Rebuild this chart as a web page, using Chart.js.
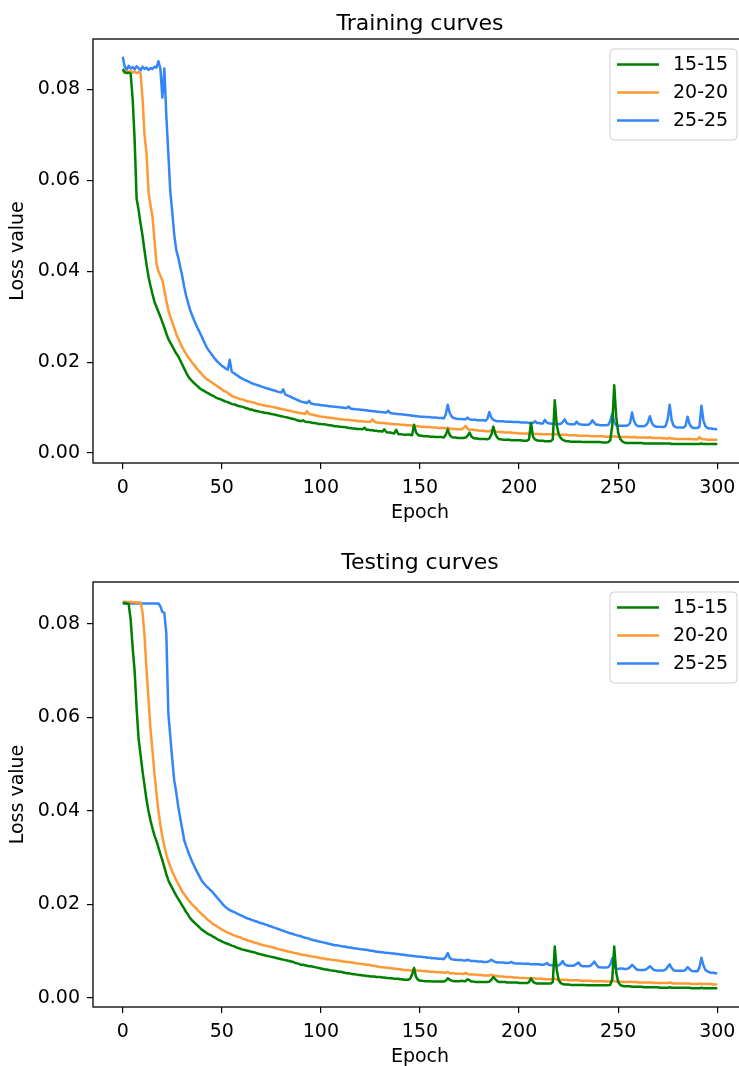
<!DOCTYPE html>
<html>
<head>
<meta charset="utf-8">
<script src="https://cdn.jsdelivr.net/npm/chart.js@4/dist/chart.umd.min.js"></script>
<style>
  html, body { margin: 0; padding: 0; background: #fff; overflow: hidden; }
  #wrap { position: relative; width: 739px; height: 1066px; overflow: hidden; }
  canvas { position: absolute; left: 0; }
  #trainChart { top: 0; }
  #testChart { top: 543px; }
</style>
</head>
<body>
<div id="wrap">
  <canvas id="trainChart" width="760" height="540" style="width:760px;height:540px"></canvas>
  <canvas id="testChart" width="760" height="540" style="width:760px;height:540px"></canvas>
</div>
<script>
// Loss per epoch (0..300) for the three grid sizes
const seriesNames = ["15-15", "20-20", "25-25"];
const lineColors = ["#008000", "#ff9933", "#3386f7"];
const epochTicks = [0, 50, 100, 150, 200, 250, 300];
const lossTicks = [0, 0.02, 0.04, 0.06, 0.08];

const trainGreen = [
  0.0845, 0.0838, 0.0836, 0.0837, 0.0835, 0.0780, 0.0690, 0.0560, 0.0535, 0.0505,
  0.0478, 0.0445, 0.0415, 0.0388, 0.0368, 0.0350, 0.0333, 0.0322, 0.0311, 0.0300,
  0.0288, 0.0276, 0.0263, 0.0251, 0.0243, 0.0235, 0.0227, 0.0219, 0.0213, 0.0204,
  0.0195, 0.0186, 0.0177, 0.0169, 0.0163, 0.0158, 0.0154, 0.0150, 0.0146, 0.0142,
  0.0139, 0.0137, 0.0134, 0.0132, 0.0129, 0.0127, 0.0125, 0.0122, 0.0120, 0.0119,
  0.0117, 0.0115, 0.0113, 0.0112, 0.0110, 0.0108, 0.0107, 0.0106, 0.0104, 0.0103,
  0.0102, 0.0101, 0.0099, 0.0098, 0.0096, 0.0096, 0.0094, 0.0093, 0.0092, 0.0091,
  0.0090, 0.0089, 0.0088, 0.0088, 0.0087, 0.0086, 0.0085, 0.0084, 0.0083, 0.0082,
  0.0081, 0.0080, 0.0079, 0.0078, 0.0077, 0.0076, 0.0075, 0.0074, 0.0072, 0.0071,
  0.0070, 0.0072, 0.0069, 0.0068, 0.0068, 0.0067, 0.0066, 0.0066, 0.0065, 0.0064,
  0.0064, 0.0063, 0.0063, 0.0062, 0.0061, 0.0061, 0.0060, 0.0059, 0.0059, 0.0058,
  0.0058, 0.0057, 0.0057, 0.0056, 0.0055, 0.0055, 0.0054, 0.0054, 0.0053, 0.0053,
  0.0053, 0.0052, 0.0056, 0.0051, 0.0051, 0.0050, 0.0050, 0.0049, 0.0049, 0.0048,
  0.0048, 0.0047, 0.0052, 0.0046, 0.0045, 0.0045, 0.0044, 0.0043, 0.0051, 0.0042,
  0.0041, 0.0041, 0.0040, 0.0040, 0.0041, 0.0040, 0.0039, 0.0062, 0.0045, 0.0040,
  0.0038, 0.0038, 0.0037, 0.0037, 0.0037, 0.0036, 0.0036, 0.0036, 0.0035, 0.0035,
  0.0035, 0.0035, 0.0034, 0.0040, 0.0052, 0.0040, 0.0035, 0.0034, 0.0034, 0.0033,
  0.0033, 0.0033, 0.0033, 0.0034, 0.0038, 0.0045, 0.0036, 0.0033, 0.0032, 0.0032,
  0.0031, 0.0031, 0.0031, 0.0031, 0.0030, 0.0032, 0.0040, 0.0058, 0.0042, 0.0034,
  0.0030, 0.0030, 0.0029, 0.0029, 0.0029, 0.0029, 0.0028, 0.0028, 0.0028, 0.0028,
  0.0028, 0.0028, 0.0027, 0.0027, 0.0027, 0.0030, 0.0066, 0.0036, 0.0030, 0.0028,
  0.0027, 0.0027, 0.0027, 0.0026, 0.0026, 0.0026, 0.0026, 0.0030, 0.0116, 0.0062,
  0.0041, 0.0033, 0.0029, 0.0027, 0.0026, 0.0026, 0.0025, 0.0025, 0.0025, 0.0025,
  0.0025, 0.0025, 0.0024, 0.0024, 0.0024, 0.0024, 0.0024, 0.0024, 0.0024, 0.0024,
  0.0024, 0.0024, 0.0023, 0.0023, 0.0023, 0.0024, 0.0028, 0.0060, 0.0149, 0.0080,
  0.0045, 0.0031, 0.0026, 0.0023, 0.0022, 0.0022, 0.0022, 0.0022, 0.0022, 0.0022,
  0.0022, 0.0022, 0.0022, 0.0021, 0.0021, 0.0021, 0.0021, 0.0021, 0.0021, 0.0021,
  0.0021, 0.0021, 0.0021, 0.0021, 0.0021, 0.0021, 0.0021, 0.0020, 0.0020, 0.0020,
  0.0020, 0.0020, 0.0020, 0.0020, 0.0020, 0.0020, 0.0020, 0.0020, 0.0020, 0.0020,
  0.0020, 0.0020, 0.0021, 0.0020, 0.0020, 0.0020, 0.0020, 0.0020, 0.0020, 0.0020,
  0.0020
];

const trainOrange = [
  0.0842, 0.0836, 0.0840, 0.0838, 0.0841, 0.0837, 0.0839, 0.0836, 0.0838, 0.0835,
  0.0780, 0.0700, 0.0660, 0.0575, 0.0545, 0.0520, 0.0470, 0.0418, 0.0400, 0.0390,
  0.0380, 0.0358, 0.0335, 0.0315, 0.0300, 0.0288, 0.0275, 0.0262, 0.0252, 0.0242,
  0.0233, 0.0225, 0.0218, 0.0211, 0.0205, 0.0199, 0.0194, 0.0188, 0.0183, 0.0178,
  0.0173, 0.0168, 0.0164, 0.0161, 0.0158, 0.0155, 0.0152, 0.0149, 0.0146, 0.0143,
  0.0140, 0.0137, 0.0135, 0.0132, 0.0129, 0.0126, 0.0124, 0.0122, 0.0121, 0.0119,
  0.0118, 0.0117, 0.0115, 0.0114, 0.0113, 0.0112, 0.0111, 0.0110, 0.0108, 0.0107,
  0.0106, 0.0105, 0.0104, 0.0103, 0.0103, 0.0102, 0.0101, 0.0100, 0.0099, 0.0098,
  0.0097, 0.0096, 0.0095, 0.0094, 0.0093, 0.0092, 0.0091, 0.0090, 0.0089, 0.0088,
  0.0088, 0.0087, 0.0086, 0.0092, 0.0086, 0.0085, 0.0084, 0.0083, 0.0082, 0.0081,
  0.0080, 0.0080, 0.0079, 0.0078, 0.0078, 0.0077, 0.0077, 0.0076, 0.0076, 0.0075,
  0.0074, 0.0074, 0.0073, 0.0073, 0.0073, 0.0072, 0.0072, 0.0071, 0.0071, 0.0070,
  0.0070, 0.0070, 0.0069, 0.0069, 0.0069, 0.0068, 0.0074, 0.0069, 0.0067, 0.0067,
  0.0066, 0.0066, 0.0066, 0.0065, 0.0065, 0.0064, 0.0064, 0.0063, 0.0063, 0.0063,
  0.0062, 0.0062, 0.0062, 0.0061, 0.0061, 0.0061, 0.0060, 0.0060, 0.0059, 0.0059,
  0.0058, 0.0058, 0.0058, 0.0057, 0.0057, 0.0057, 0.0056, 0.0056, 0.0056, 0.0055,
  0.0055, 0.0055, 0.0055, 0.0054, 0.0056, 0.0054, 0.0053, 0.0053, 0.0053, 0.0052,
  0.0052, 0.0052, 0.0055, 0.0060, 0.0053, 0.0051, 0.0051, 0.0051, 0.0050, 0.0050,
  0.0049, 0.0049, 0.0049, 0.0048, 0.0048, 0.0048, 0.0050, 0.0048, 0.0047, 0.0047,
  0.0046, 0.0046, 0.0046, 0.0045, 0.0045, 0.0045, 0.0045, 0.0044, 0.0044, 0.0044,
  0.0043, 0.0043, 0.0043, 0.0043, 0.0043, 0.0042, 0.0044, 0.0042, 0.0042, 0.0042,
  0.0042, 0.0042, 0.0041, 0.0041, 0.0041, 0.0041, 0.0041, 0.0041, 0.0042, 0.0041,
  0.0040, 0.0040, 0.0040, 0.0040, 0.0040, 0.0039, 0.0039, 0.0039, 0.0039, 0.0039,
  0.0038, 0.0038, 0.0038, 0.0038, 0.0038, 0.0038, 0.0037, 0.0037, 0.0037, 0.0037,
  0.0037, 0.0037, 0.0037, 0.0036, 0.0036, 0.0036, 0.0036, 0.0036, 0.0037, 0.0036,
  0.0036, 0.0035, 0.0035, 0.0035, 0.0035, 0.0035, 0.0035, 0.0034, 0.0036, 0.0034,
  0.0034, 0.0034, 0.0034, 0.0034, 0.0034, 0.0033, 0.0035, 0.0033, 0.0033, 0.0033,
  0.0033, 0.0033, 0.0033, 0.0032, 0.0032, 0.0032, 0.0033, 0.0032, 0.0032, 0.0031,
  0.0031, 0.0031, 0.0031, 0.0031, 0.0031, 0.0031, 0.0031, 0.0030, 0.0030, 0.0030,
  0.0030, 0.0035, 0.0031, 0.0030, 0.0030, 0.0029, 0.0029, 0.0029, 0.0029, 0.0029,
  0.0029
];

const trainBlue = [
  0.0872, 0.0850, 0.0843, 0.0852, 0.0846, 0.0849, 0.0844, 0.0851, 0.0847, 0.0842,
  0.0850, 0.0845, 0.0848, 0.0843, 0.0847, 0.0845, 0.0850, 0.0848, 0.0862, 0.0846,
  0.0782, 0.0846, 0.0742, 0.0660, 0.0575, 0.0530, 0.0480, 0.0447, 0.0430, 0.0410,
  0.0390, 0.0366, 0.0346, 0.0330, 0.0315, 0.0303, 0.0292, 0.0282, 0.0273, 0.0264,
  0.0255, 0.0245, 0.0236, 0.0228, 0.0222, 0.0216, 0.0210, 0.0205, 0.0200, 0.0196,
  0.0192, 0.0189, 0.0186, 0.0183, 0.0205, 0.0179, 0.0176, 0.0173, 0.0170, 0.0167,
  0.0164, 0.0162, 0.0160, 0.0158, 0.0156, 0.0154, 0.0152, 0.0151, 0.0149, 0.0148,
  0.0146, 0.0145, 0.0143, 0.0142, 0.0141, 0.0139, 0.0138, 0.0137, 0.0135, 0.0134,
  0.0133, 0.0140, 0.0129, 0.0127, 0.0125, 0.0123, 0.0121, 0.0119, 0.0117, 0.0115,
  0.0113, 0.0112, 0.0111, 0.0110, 0.0115, 0.0109, 0.0108, 0.0107, 0.0107, 0.0106,
  0.0105, 0.0105, 0.0104, 0.0104, 0.0103, 0.0103, 0.0102, 0.0102, 0.0101, 0.0101,
  0.0100, 0.0100, 0.0099, 0.0099, 0.0102, 0.0098, 0.0097, 0.0097, 0.0096, 0.0096,
  0.0095, 0.0095, 0.0094, 0.0094, 0.0093, 0.0093, 0.0092, 0.0092, 0.0091, 0.0091,
  0.0090, 0.0090, 0.0089, 0.0089, 0.0093, 0.0088, 0.0087, 0.0087, 0.0086, 0.0086,
  0.0085, 0.0085, 0.0084, 0.0084, 0.0083, 0.0083, 0.0082, 0.0082, 0.0081, 0.0081,
  0.0080, 0.0080, 0.0080, 0.0079, 0.0079, 0.0079, 0.0078, 0.0078, 0.0078, 0.0077,
  0.0077, 0.0077, 0.0076, 0.0085, 0.0106, 0.0088, 0.0080, 0.0077, 0.0076, 0.0075,
  0.0075, 0.0075, 0.0074, 0.0074, 0.0078, 0.0074, 0.0073, 0.0073, 0.0073, 0.0072,
  0.0072, 0.0072, 0.0072, 0.0071, 0.0075, 0.0090, 0.0078, 0.0073, 0.0071, 0.0070,
  0.0070, 0.0070, 0.0070, 0.0069, 0.0069, 0.0069, 0.0069, 0.0068, 0.0068, 0.0068,
  0.0068, 0.0067, 0.0067, 0.0067, 0.0067, 0.0066, 0.0066, 0.0066, 0.0070, 0.0066,
  0.0066, 0.0065, 0.0065, 0.0073, 0.0067, 0.0065, 0.0065, 0.0064, 0.0064, 0.0064,
  0.0064, 0.0064, 0.0068, 0.0074, 0.0066, 0.0064, 0.0063, 0.0063, 0.0063, 0.0069,
  0.0064, 0.0063, 0.0062, 0.0062, 0.0062, 0.0062, 0.0065, 0.0072, 0.0066, 0.0062,
  0.0062, 0.0061, 0.0061, 0.0061, 0.0061, 0.0062, 0.0070, 0.0087, 0.0068, 0.0061,
  0.0060, 0.0060, 0.0060, 0.0060, 0.0060, 0.0061, 0.0066, 0.0089, 0.0070, 0.0062,
  0.0059, 0.0059, 0.0059, 0.0059, 0.0061, 0.0067, 0.0081, 0.0066, 0.0060, 0.0058,
  0.0058, 0.0058, 0.0057, 0.0057, 0.0060, 0.0075, 0.0106, 0.0072, 0.0060, 0.0057,
  0.0056, 0.0056, 0.0056, 0.0056, 0.0060, 0.0080, 0.0064, 0.0057, 0.0055, 0.0055,
  0.0055, 0.0058, 0.0104, 0.0072, 0.0059, 0.0055, 0.0054, 0.0054, 0.0053, 0.0053,
  0.0052
];

const testGreen = [
  0.0845, 0.0845, 0.0844, 0.0843, 0.0810, 0.0750, 0.0700, 0.0620, 0.0555, 0.0520,
  0.0485, 0.0455, 0.0424, 0.0400, 0.0380, 0.0363, 0.0348, 0.0336, 0.0322, 0.0308,
  0.0295, 0.0280, 0.0265, 0.0252, 0.0243, 0.0235, 0.0227, 0.0219, 0.0212, 0.0205,
  0.0198, 0.0191, 0.0184, 0.0178, 0.0171, 0.0166, 0.0162, 0.0158, 0.0154, 0.0150,
  0.0146, 0.0143, 0.0140, 0.0137, 0.0135, 0.0133, 0.0130, 0.0128, 0.0125, 0.0123,
  0.0121, 0.0119, 0.0117, 0.0116, 0.0114, 0.0112, 0.0111, 0.0109, 0.0107, 0.0106,
  0.0104, 0.0103, 0.0102, 0.0101, 0.0100, 0.0099, 0.0098, 0.0097, 0.0095, 0.0094,
  0.0093, 0.0092, 0.0091, 0.0090, 0.0089, 0.0088, 0.0087, 0.0086, 0.0085, 0.0084,
  0.0083, 0.0082, 0.0081, 0.0080, 0.0079, 0.0078, 0.0077, 0.0075, 0.0074, 0.0073,
  0.0071, 0.0071, 0.0070, 0.0069, 0.0068, 0.0068, 0.0067, 0.0066, 0.0065, 0.0064,
  0.0063, 0.0062, 0.0061, 0.0061, 0.0060, 0.0059, 0.0058, 0.0058, 0.0057, 0.0056,
  0.0056, 0.0055, 0.0054, 0.0053, 0.0053, 0.0052, 0.0051, 0.0051, 0.0050, 0.0049,
  0.0049, 0.0048, 0.0048, 0.0047, 0.0047, 0.0046, 0.0046, 0.0046, 0.0045, 0.0045,
  0.0045, 0.0044, 0.0044, 0.0043, 0.0043, 0.0042, 0.0042, 0.0041, 0.0041, 0.0041,
  0.0040, 0.0040, 0.0039, 0.0039, 0.0039, 0.0041, 0.0050, 0.0064, 0.0045, 0.0039,
  0.0037, 0.0037, 0.0036, 0.0036, 0.0036, 0.0036, 0.0035, 0.0035, 0.0035, 0.0035,
  0.0035, 0.0035, 0.0035, 0.0037, 0.0042, 0.0039, 0.0037, 0.0036, 0.0036, 0.0036,
  0.0036, 0.0037, 0.0036, 0.0036, 0.0040, 0.0038, 0.0035, 0.0035, 0.0034, 0.0034,
  0.0034, 0.0034, 0.0034, 0.0034, 0.0034, 0.0035, 0.0039, 0.0045, 0.0040, 0.0036,
  0.0034, 0.0034, 0.0034, 0.0034, 0.0033, 0.0033, 0.0033, 0.0033, 0.0033, 0.0033,
  0.0032, 0.0032, 0.0032, 0.0032, 0.0032, 0.0034, 0.0042, 0.0035, 0.0032, 0.0031,
  0.0031, 0.0031, 0.0031, 0.0031, 0.0031, 0.0031, 0.0031, 0.0034, 0.0110, 0.0060,
  0.0038, 0.0032, 0.0030, 0.0029, 0.0029, 0.0029, 0.0028, 0.0028, 0.0028, 0.0028,
  0.0028, 0.0028, 0.0028, 0.0028, 0.0027, 0.0027, 0.0027, 0.0027, 0.0027, 0.0027,
  0.0027, 0.0027, 0.0027, 0.0027, 0.0027, 0.0027, 0.0028, 0.0040, 0.0110, 0.0055,
  0.0034, 0.0028, 0.0026, 0.0025, 0.0025, 0.0025, 0.0025, 0.0024, 0.0024, 0.0024,
  0.0024, 0.0024, 0.0024, 0.0023, 0.0023, 0.0023, 0.0023, 0.0023, 0.0023, 0.0023,
  0.0023, 0.0022, 0.0022, 0.0022, 0.0022, 0.0022, 0.0023, 0.0022, 0.0022, 0.0022,
  0.0022, 0.0022, 0.0022, 0.0022, 0.0022, 0.0022, 0.0022, 0.0021, 0.0021, 0.0021,
  0.0021, 0.0021, 0.0022, 0.0021, 0.0021, 0.0021, 0.0021, 0.0021, 0.0021, 0.0021,
  0.0021
];

const testOrange = [
  0.0848, 0.0848, 0.0847, 0.0847, 0.0847, 0.0847, 0.0846, 0.0846, 0.0846, 0.0846,
  0.0825, 0.0775, 0.0702, 0.0640, 0.0575, 0.0530, 0.0480, 0.0440, 0.0400, 0.0370,
  0.0345, 0.0325, 0.0307, 0.0293, 0.0281, 0.0270, 0.0261, 0.0252, 0.0244, 0.0236,
  0.0228, 0.0222, 0.0216, 0.0210, 0.0205, 0.0200, 0.0196, 0.0192, 0.0187, 0.0183,
  0.0179, 0.0175, 0.0171, 0.0167, 0.0164, 0.0160, 0.0157, 0.0155, 0.0152, 0.0149,
  0.0146, 0.0144, 0.0142, 0.0140, 0.0138, 0.0136, 0.0134, 0.0133, 0.0131, 0.0130,
  0.0128, 0.0126, 0.0125, 0.0123, 0.0122, 0.0121, 0.0119, 0.0118, 0.0117, 0.0115,
  0.0114, 0.0113, 0.0112, 0.0111, 0.0110, 0.0109, 0.0108, 0.0107, 0.0105, 0.0104,
  0.0103, 0.0102, 0.0101, 0.0100, 0.0099, 0.0098, 0.0097, 0.0096, 0.0095, 0.0094,
  0.0093, 0.0092, 0.0092, 0.0091, 0.0090, 0.0089, 0.0088, 0.0088, 0.0087, 0.0086,
  0.0085, 0.0085, 0.0084, 0.0083, 0.0083, 0.0082, 0.0081, 0.0081, 0.0080, 0.0080,
  0.0079, 0.0078, 0.0078, 0.0077, 0.0077, 0.0076, 0.0076, 0.0075, 0.0074, 0.0074,
  0.0073, 0.0072, 0.0072, 0.0071, 0.0071, 0.0070, 0.0069, 0.0069, 0.0068, 0.0067,
  0.0066, 0.0066, 0.0065, 0.0065, 0.0064, 0.0064, 0.0063, 0.0063, 0.0062, 0.0062,
  0.0061, 0.0061, 0.0060, 0.0060, 0.0060, 0.0059, 0.0059, 0.0062, 0.0059, 0.0058,
  0.0058, 0.0058, 0.0057, 0.0057, 0.0057, 0.0056, 0.0056, 0.0056, 0.0055, 0.0055,
  0.0055, 0.0055, 0.0054, 0.0054, 0.0056, 0.0053, 0.0053, 0.0053, 0.0052, 0.0052,
  0.0052, 0.0052, 0.0051, 0.0054, 0.0051, 0.0050, 0.0050, 0.0050, 0.0050, 0.0049,
  0.0049, 0.0049, 0.0048, 0.0048, 0.0048, 0.0048, 0.0050, 0.0048, 0.0047, 0.0047,
  0.0046, 0.0046, 0.0046, 0.0045, 0.0045, 0.0045, 0.0045, 0.0044, 0.0044, 0.0044,
  0.0043, 0.0043, 0.0043, 0.0043, 0.0042, 0.0042, 0.0043, 0.0042, 0.0042, 0.0041,
  0.0041, 0.0041, 0.0041, 0.0040, 0.0040, 0.0040, 0.0040, 0.0040, 0.0041, 0.0040,
  0.0039, 0.0039, 0.0039, 0.0039, 0.0039, 0.0038, 0.0038, 0.0038, 0.0038, 0.0038,
  0.0038, 0.0037, 0.0037, 0.0037, 0.0037, 0.0037, 0.0037, 0.0036, 0.0036, 0.0036,
  0.0036, 0.0036, 0.0036, 0.0036, 0.0035, 0.0035, 0.0035, 0.0035, 0.0036, 0.0035,
  0.0035, 0.0035, 0.0034, 0.0034, 0.0034, 0.0034, 0.0035, 0.0034, 0.0034, 0.0034,
  0.0033, 0.0033, 0.0033, 0.0033, 0.0033, 0.0033, 0.0033, 0.0033, 0.0032, 0.0032,
  0.0032, 0.0032, 0.0032, 0.0032, 0.0032, 0.0032, 0.0033, 0.0032, 0.0031, 0.0031,
  0.0031, 0.0031, 0.0031, 0.0031, 0.0031, 0.0031, 0.0031, 0.0030, 0.0030, 0.0030,
  0.0030, 0.0031, 0.0030, 0.0030, 0.0030, 0.0030, 0.0030, 0.0030, 0.0029, 0.0029,
  0.0029
];

const testBlue = [
  0.0844, 0.0844, 0.0844, 0.0844, 0.0844, 0.0844, 0.0844, 0.0844, 0.0844, 0.0844,
  0.0844, 0.0844, 0.0844, 0.0844, 0.0844, 0.0844, 0.0844, 0.0844, 0.0844, 0.0838,
  0.0826, 0.0824, 0.0780, 0.0610, 0.0560, 0.0510, 0.0465, 0.0440, 0.0410, 0.0385,
  0.0362, 0.0338, 0.0325, 0.0313, 0.0302, 0.0292, 0.0283, 0.0274, 0.0266, 0.0258,
  0.0250, 0.0245, 0.0240, 0.0236, 0.0232, 0.0228, 0.0223, 0.0218, 0.0213, 0.0208,
  0.0203, 0.0198, 0.0194, 0.0191, 0.0188, 0.0186, 0.0184, 0.0182, 0.0180, 0.0178,
  0.0176, 0.0174, 0.0172, 0.0170, 0.0169, 0.0167, 0.0166, 0.0164, 0.0163, 0.0161,
  0.0160, 0.0159, 0.0157, 0.0156, 0.0154, 0.0153, 0.0151, 0.0150, 0.0148, 0.0147,
  0.0145, 0.0144, 0.0142, 0.0141, 0.0139, 0.0138, 0.0137, 0.0135, 0.0134, 0.0133,
  0.0132, 0.0130, 0.0129, 0.0128, 0.0127, 0.0125, 0.0124, 0.0123, 0.0122, 0.0121,
  0.0120, 0.0119, 0.0118, 0.0117, 0.0116, 0.0115, 0.0114, 0.0113, 0.0113, 0.0112,
  0.0111, 0.0110, 0.0110, 0.0109, 0.0108, 0.0108, 0.0107, 0.0106, 0.0106, 0.0105,
  0.0104, 0.0104, 0.0103, 0.0103, 0.0102, 0.0101, 0.0101, 0.0100, 0.0099, 0.0099,
  0.0098, 0.0098, 0.0097, 0.0097, 0.0096, 0.0096, 0.0095, 0.0095, 0.0094, 0.0094,
  0.0093, 0.0093, 0.0092, 0.0092, 0.0091, 0.0091, 0.0090, 0.0090, 0.0089, 0.0089,
  0.0088, 0.0088, 0.0087, 0.0087, 0.0086, 0.0086, 0.0085, 0.0085, 0.0085, 0.0084,
  0.0084, 0.0084, 0.0083, 0.0088, 0.0096, 0.0086, 0.0083, 0.0082, 0.0082, 0.0081,
  0.0081, 0.0081, 0.0080, 0.0080, 0.0082, 0.0080, 0.0079, 0.0079, 0.0079, 0.0078,
  0.0078, 0.0078, 0.0077, 0.0077, 0.0077, 0.0079, 0.0082, 0.0079, 0.0077, 0.0076,
  0.0076, 0.0076, 0.0076, 0.0075, 0.0075, 0.0075, 0.0077, 0.0075, 0.0074, 0.0074,
  0.0074, 0.0074, 0.0073, 0.0073, 0.0073, 0.0073, 0.0072, 0.0072, 0.0072, 0.0072,
  0.0072, 0.0071, 0.0071, 0.0072, 0.0075, 0.0071, 0.0070, 0.0070, 0.0070, 0.0069,
  0.0070, 0.0073, 0.0079, 0.0072, 0.0070, 0.0069, 0.0069, 0.0069, 0.0070, 0.0073,
  0.0076, 0.0070, 0.0068, 0.0068, 0.0068, 0.0068, 0.0069, 0.0073, 0.0078, 0.0071,
  0.0066, 0.0066, 0.0065, 0.0065, 0.0065, 0.0066, 0.0071, 0.0085, 0.0068, 0.0062,
  0.0062, 0.0063, 0.0063, 0.0062, 0.0062, 0.0063, 0.0066, 0.0071, 0.0067, 0.0062,
  0.0060, 0.0060, 0.0060, 0.0060, 0.0061, 0.0064, 0.0068, 0.0064, 0.0060, 0.0059,
  0.0059, 0.0059, 0.0059, 0.0059, 0.0061, 0.0067, 0.0072, 0.0064, 0.0059, 0.0058,
  0.0058, 0.0058, 0.0058, 0.0058, 0.0060, 0.0066, 0.0062, 0.0058, 0.0057, 0.0057,
  0.0057, 0.0065, 0.0086, 0.0070, 0.0060, 0.0057, 0.0055, 0.0054, 0.0054, 0.0053,
  0.0053
];

const epochs = trainGreen.map((_, i) => i);

const FONT = "'DejaVu Sans', sans-serif";
const FS = 19;

// matplotlib-style frame around the plot area
const frame = {
  id: 'frame',
  afterDraw(chart) {
    const { ctx, chartArea: a } = chart;
    ctx.save();
    ctx.strokeStyle = '#000';
    ctx.lineWidth = 1.3;
    ctx.strokeRect(a.left, a.top, a.right - a.left, a.bottom - a.top);
    ctx.restore();
  }
};

// legend box in the upper right corner of the plot area
const legendBox = {
  id: 'legendBox',
  afterDatasetsDraw(chart) {
    const { ctx, chartArea: a } = chart;
    const w = 127, h = 91, r = 4;
    const x = a.right - 10 - w, y = a.top + 10;
    ctx.save();
    ctx.beginPath();
    ctx.moveTo(x + r, y);
    ctx.arcTo(x + w, y, x + w, y + h, r);
    ctx.arcTo(x + w, y + h, x, y + h, r);
    ctx.arcTo(x, y + h, x, y, r);
    ctx.arcTo(x, y, x + w, y, r);
    ctx.closePath();
    ctx.fillStyle = 'rgba(255,255,255,0.8)';
    ctx.fill();
    ctx.strokeStyle = '#d0d0d0';
    ctx.lineWidth = 1;
    ctx.stroke();
    chart.data.datasets.forEach((ds, i) => {
      const cy = y + 15.5 + i * 28;
      ctx.strokeStyle = ds.borderColor;
      ctx.lineWidth = 2.5;
      ctx.beginPath();
      ctx.moveTo(x + 7, cy);
      ctx.lineTo(x + 49, cy);
      ctx.stroke();
      ctx.fillStyle = '#000';
      ctx.font = FS + 'px ' + FONT;
      ctx.textBaseline = 'middle';
      ctx.textAlign = 'left';
      ctx.fillText(ds.label, x + 63, cy + 1);
    });
    ctx.restore();
  }
};

function makeChart(id, title, series, yMin, yMax, titlePad, xAxisHeight) {
  const datasets = series.map((vals, i) => ({
    label: seriesNames[i],
    data: vals.map((v, j) => ({ x: epochs[j], y: v })),
    borderColor: lineColors[i],
    borderWidth: 2.5,
    borderJoinStyle: 'round',
    pointRadius: 0,
    tension: 0,
    fill: false
  }));

  const tickGrid = {
    drawOnChartArea: false,
    drawTicks: true,
    tickLength: 6,
    color: '#000',
    lineWidth: 1.2
  };

  return new Chart(document.getElementById(id), {
    type: 'line',
    data: { datasets },
    options: {
      responsive: false,
      animation: false,
      layout: { padding: { left: 0, top: 0, bottom: 0, right: 13 } },
      plugins: {
        legend: { display: false },
        tooltip: { enabled: false },
        title: {
          display: true,
          fullSize: false,
          text: title,
          color: '#000',
          font: { family: FONT, size: 22, weight: 'normal', lineHeight: 1.2 },
          padding: titlePad
        }
      },
      scales: {
        x: {
          type: 'linear',
          min: -15,
          max: 315,
          grid: tickGrid,
          border: { display: false },
          afterBuildTicks: axis => { axis.ticks = epochTicks.map(v => ({ value: v })); },
          afterFit: axis => { axis.height = xAxisHeight; },
          ticks: {
            color: '#000',
            padding: 8,
            maxRotation: 0,
            font: { family: FONT, size: FS },
            callback: v => String(v)
          },
          title: {
            display: true,
            text: 'Epoch',
            color: '#000',
            font: { family: FONT, size: FS, lineHeight: 1.2 },
            padding: { top: 0, bottom: xAxisHeight - 61.4 }
          }
        },
        y: {
          min: yMin,
          max: yMax,
          grid: tickGrid,
          border: { display: false },
          afterBuildTicks: axis => { axis.ticks = lossTicks.map(v => ({ value: v })); },
          afterFit: axis => { axis.width = 93; },
          ticks: {
            color: '#000',
            padding: 7,
            font: { family: FONT, size: FS },
            callback: v => v.toFixed(2)
          },
          title: {
            display: true,
            text: 'Loss value',
            color: '#000',
            font: { family: FONT, size: FS, lineHeight: 1.2 },
            padding: { top: 6.6, bottom: 0 }
          }
        }
      }
    },
    plugins: [legendBox, frame]
  });
}

makeChart('trainChart', 'Training curves', [trainGreen, trainOrange, trainBlue],
  -0.0022, 0.0911, { top: 10.8, bottom: 1.8 }, 77);
makeChart('testChart', 'Testing curves', [testGreen, testOrange, testBlue],
  -0.00193, 0.0890, { top: 6.8, bottom: 5.8 }, 76);
</script>
</body>
</html>
